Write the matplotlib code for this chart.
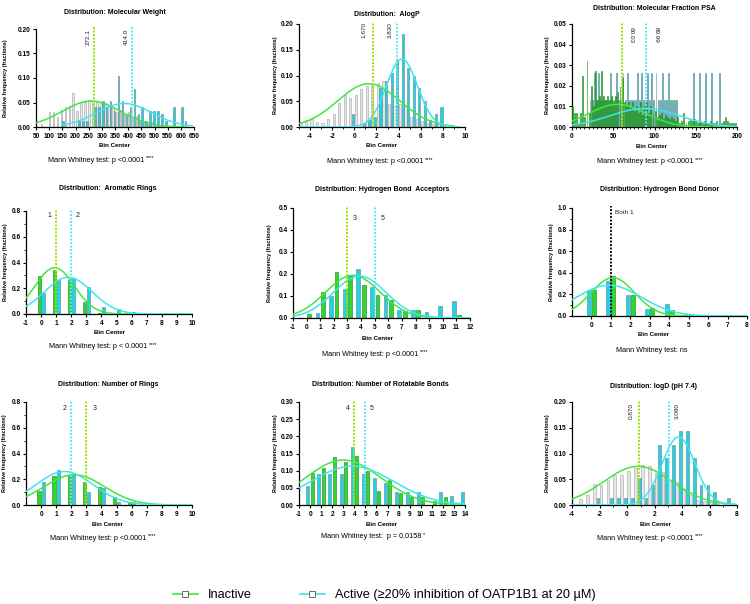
import numpy as np
import matplotlib
matplotlib.use('Agg')
import matplotlib.pyplot as plt
from matplotlib.lines import Line2D
from matplotlib.ticker import FixedLocator, MultipleLocator, FormatStrFormatter

plt.rcParams['font.family'] = ['Liberation Sans', 'DejaVu Sans']

W, H = 750, 604

# colores
GREEN = '#2fd82f'
GREEN_EDGE = '#1d7a1d'
CYAN = '#22d2e2'
CYAN_EDGE = '#5f858a'
GREY = '#e6e6e6'
GREY_EDGE = '#a0a0a0'
GREEN_FIT = '#3cea3c'
CYAN_FIT = '#3fe4f0'
GREEN_MED = '#9ae600'
CYAN_MED = '#5ae8f4'


#  DATOS (fracciones relativas)

# Molecular weight, bins de 15
mw_bins = np.arange(75, 630, 15)
mw_inactive = [0.007, 0.0, 0.03, 0.03, 0.02, 0.035, 0.04, 0.042, 0.07, 0.033,
               0.052, 0.052, 0.055, 0.054, 0.052, 0.05, 0.048, 0.045, 0.04, 0.03,
               0.035, 0.028, 0.03, 0.02, 0.022, 0.015, 0.012, 0.008, 0.01, 0.006,
               0.005, 0.004, 0.003, 0.0, 0.0, 0.0, 0.0]
mw_active = [0.0, 0.0, 0.0, 0.0, 0.0, 0.013, 0.0, 0.0, 0.0, 0.013,
             0.013, 0.013, 0.0, 0.04, 0.04, 0.053, 0.04, 0.053, 0.033, 0.104,
             0.053, 0.027, 0.04, 0.078, 0.027, 0.04, 0.013, 0.033, 0.033, 0.033,
             0.027, 0.013, 0.0, 0.04, 0.0, 0.04, 0.013]

# AlogP, bins de 0.5
alogp_bins = np.arange(-4.75, 9.5, 0.5)
alogp_inactive = [0.009, 0.013, 0.015, 0.01, 0.007, 0.015, 0.025, 0.047, 0.062, 0.057,
                  0.063, 0.074, 0.08, 0.082, 0.086, 0.09, 0.045, 0.04, 0.045, 0.04,
                  0.02, 0.015, 0.012, 0.008, 0.005, 0.003, 0.002, 0.002, 0.002]
alogp_active = [0.0, 0.0, 0.0, 0.0, 0.0, 0.0, 0.0, 0.0, 0.0, 0.025,
                0.0, 0.008, 0.013, 0.02, 0.075, 0.09, 0.105, 0.13, 0.18, 0.115,
                0.1, 0.076, 0.05, 0.013, 0.025, 0.039, 0.0, 0.0, 0.0]

# Molecular fraction PSA, bins de 2.5
psa_bins = np.arange(1.25, 200, 2.5)
psa_inactive = [0.010, 0.007, 0.007, 0.002, 0.007, 0.025, 0.005, 0.032, 0.007, 0.020,
                0.010, 0.027, 0.013, 0.015, 0.027, 0.015, 0.013, 0.015, 0.013, 0.015,
                0.012, 0.015, 0.017, 0.020, 0.024, 0.012, 0.010, 0.012, 0.009, 0.012,
                0.008, 0.010, 0.007, 0.012, 0.006, 0.010, 0.012, 0.007, 0.010, 0.006,
                0.008, 0.005, 0.006, 0.007, 0.004, 0.006, 0.005, 0.004, 0.005, 0.004,
                0.003, 0.005, 0.002, 0.003, 0.007, 0.002, 0.003, 0.004, 0.003, 0.004,
                0.003, 0.002, 0.003, 0.002, 0.003, 0.002, 0.002, 0.003, 0.002, 0.002,
                0.003, 0.002, 0.002, 0.003, 0.005, 0.003, 0.002, 0.002, 0.002, 0.002]
psa_active = [0.0, 0.0, 0.0, 0.0, 0.0, 0.0, 0.0, 0.0, 0.013, 0.013,
              0.026, 0.013, 0.026, 0.013, 0.013, 0.013, 0.013, 0.013, 0.026, 0.013,
              0.013, 0.026, 0.013, 0.013, 0.026, 0.013, 0.026, 0.013, 0.013, 0.013,
              0.013, 0.026, 0.013, 0.026, 0.013, 0.013, 0.026, 0.013, 0.026, 0.013,
              0.026, 0.013, 0.013, 0.026, 0.013, 0.013, 0.026, 0.013, 0.013, 0.013,
              0.013, 0.0, 0.0, 0.0, 0.0, 0.0, 0.0, 0.0, 0.026, 0.0,
              0.0, 0.026, 0.0, 0.0, 0.026, 0.0, 0.0, 0.026, 0.0, 0.0,
              0.0, 0.026, 0.0, 0.0, 0.0, 0.0, 0.0, 0.0, 0.0, 0.0]

# Aromatic rings
arom_bins = np.arange(0, 7)
arom_inactive = [0.297, 0.34, 0.263, 0.093, 0.005, 0.0, 0.0]
arom_active = [0.16, 0.263, 0.276, 0.21, 0.052, 0.036, 0.013]

# Hydrogen bond acceptors
hba_bins = np.arange(0, 12)
hba_inactive = [0.02, 0.116, 0.209, 0.19, 0.15, 0.105, 0.083, 0.03, 0.038, 0.003, 0.003, 0.012]
hba_active = [0.0, 0.023, 0.1, 0.131, 0.221, 0.143, 0.105, 0.038, 0.038, 0.026, 0.053, 0.078]

# Hydrogen bond donor
hbd_bins = np.arange(0, 8)
hbd_inactive = [0.238, 0.367, 0.19, 0.077, 0.06, 0.015, 0.002, 0.0]
hbd_active = [0.244, 0.32, 0.19, 0.062, 0.114, 0.02, 0.003, 0.01]

# Number of rings
rings_bins = np.arange(0, 8)
rings_inactive = [0.11, 0.226, 0.234, 0.18, 0.138, 0.06, 0.023, 0.005]
rings_active = [0.18, 0.27, 0.24, 0.10, 0.13, 0.026, 0.023, 0.0]

# Number of rotatable bonds
rot_bins = np.arange(0, 15)
rot_inactive = [0.093, 0.109, 0.139, 0.124, 0.143, 0.1, 0.041, 0.073, 0.034, 0.024,
                0.024, 0.012, 0.022, 0.0, 0.0]
rot_active = [0.054, 0.09, 0.09, 0.09, 0.168, 0.09, 0.078, 0.065, 0.039, 0.039,
              0.039, 0.0, 0.039, 0.026, 0.039]

# logD (pH 7.4), bins de 0.5
logd_bins = np.arange(-3.5, 8.0, 0.5)
logd_inactive = [0.011, 0.02, 0.04, 0.038, 0.048, 0.058, 0.058, 0.066, 0.072, 0.078,
                 0.075, 0.063, 0.065, 0.045, 0.045, 0.03, 0.02, 0.01, 0.008, 0.005,
                 0.003, 0.002, 0.001]
logd_active = [0.0, 0.0, 0.0, 0.013, 0.0, 0.013, 0.013, 0.013, 0.013, 0.052,
               0.013, 0.039, 0.117, 0.091, 0.117, 0.143, 0.143, 0.091, 0.039, 0.039,
               0.026, 0.0, 0.013]

# Ajuste gaussiano (amplitud, media, sd)
fit_inactive = [(0.053, 260, 110), (0.084, 1.3, 2.8), (0.011, 55, 34),
                (0.36, 0.9, 1.3), (0.194, 3.4, 2.0), (0.355, 1.1, 1.12),
                (0.235, 2.2, 2.0), (0.131, 3.0, 3.4), (0.075, 0.8, 2.5)]
fit_active = [(0.048, 385, 105), (0.132, 4.3, 1.4), (0.009, 88, 42),
              (0.285, 1.8, 1.58), (0.19, 3.9, 1.95), (0.285, 0.9, 1.68),
              (0.26, 1.55, 1.9), (0.113, 3.8, 3.75), (0.132, 3.75, 1.2)]

# Medianas
median_inactive = [272.1, 1.670, 60.03, 1, 3, 1, 3, 4, 0.870]
median_active = [414.0, 3.830, 89.99, 2, 5, 1, 2, 5, 3.080]

titles = ['Distribution: Molecular Weight', 'Distribution:  AlogP',
          'Distribution: Molecular Fraction PSA', 'Distribution:  Aromatic Rings',
          'Distribution: Hydrogen Bond  Acceptors', 'Distribution: Hydrogen Bond Donor',
          'Distribution: Number of Rings', 'Distribution: Number of Rotatable Bonds',
          'Distribution: logD (pH 7.4)']
p_texts = ['p <0.0001', 'p <0.0001', 'p <0.0001', 'p < 0.0001', 'p <0.0001',
           'ns', 'p <0.0001', ' p = 0.0158', 'p <0.0001']
stars = ['****', '****', '****', '****', '****', '', '****', '*', '****']


#  LAYOUT (pixeles)

# (x0, top, x1, bottom) de cada eje
rects = [(36, 29, 194, 127), (299, 24, 465, 127), (572, 24, 737, 127),
         (26, 211, 192, 314), (293, 208, 470, 318), (572, 208, 747, 316),
         (26, 402, 192, 505), (299, 402, 465, 505), (572, 402, 737, 505)]
title_xy = [(115, 13), (387, 15), (654, 8), (108, 189), (382, 190), (660, 190),
            (108, 385), (380, 385), (654, 386)]
bincenter_xy = [(115, 145), (382, 145), (652, 146), (109, 333), (377, 339), (653, 335),
                (107, 524), (382, 524), (655, 524)]
mw_xy = [(100, 160), (379, 162), (649, 162), (102, 347), (374, 354), (652, 350),
         (102, 538), (375, 537), (649, 538)]
ylabel_x = [6, 275, 548, 6, 270, 551, 5, 275, 548]


def gauss(x, amp, mu, sd):
    return amp * np.exp(-(x - mu) ** 2 / (2 * sd ** 2))


def add_axes(fig, r):
    x0, top, x1, bottom = r
    return fig.add_axes([x0 / W, 1 - bottom / H, (x1 - x0) / W, (bottom - top) / H])


def px_off(dx, dy):
    # pixeles -> puntos (dpi 100)
    return (dx * 0.72, dy * 0.72)


def style_axes(ax, xlim, ylim, xticks, yticks, yfmt, xminor=None, yminor=None):
    ax.set_xlim(*xlim)
    ax.set_ylim(*ylim)
    for s in ('top', 'right'):
        ax.spines[s].set_visible(False)
    for s in ('left', 'bottom'):
        ax.spines[s].set_linewidth(0.9)
    ax.xaxis.set_major_locator(FixedLocator(xticks))
    ax.yaxis.set_major_locator(FixedLocator(yticks))
    ax.yaxis.set_major_formatter(FormatStrFormatter(yfmt))
    ax.xaxis.set_major_formatter(FormatStrFormatter('%g'))
    if xminor:
        ax.xaxis.set_minor_locator(MultipleLocator(xminor))
    if yminor:
        ax.yaxis.set_minor_locator(MultipleLocator(yminor))
    ax.tick_params(which='major', length=2.5, width=0.8, labelsize=4.7, pad=1.5)
    ax.tick_params(which='minor', length=1.5, width=0.6)
    for lbl in ax.get_xticklabels() + ax.get_yticklabels():
        lbl.set_fontweight('bold')


def draw_bars(ax, bins, inactive, active, width, offset, grey=False,
              inactive_first=True, inactive_on_top=False):
    sign = -1 if inactive_first else 1
    if grey:
        fc, ec = GREY, GREY_EDGE
    else:
        fc, ec = GREEN, GREEN_EDGE
    z_in = 3 if inactive_on_top else 2
    ax.bar(np.asarray(bins) + sign * offset, inactive, width=width, color=fc,
           edgecolor=ec, linewidth=0.4, zorder=z_in)
    ax.bar(np.asarray(bins) - sign * offset, active, width=width, color=CYAN,
           edgecolor=CYAN_EDGE, linewidth=0.4, zorder=2.5)


def draw_fits(ax, i, xr_inactive, xr_active):
    xs = np.linspace(*xr_inactive, 300)
    ax.plot(xs, gauss(xs, *fit_inactive[i]), color=GREEN_FIT, lw=1.1, zorder=4)
    xs = np.linspace(*xr_active, 300)
    ax.plot(xs, gauss(xs, *fit_active[i]), color=CYAN_FIT, lw=1.1, zorder=4)


def draw_median(ax, x, color, label, dx, dy, rot=0, ha='left', va='top', fs=4.6):
    ax.axvline(x, 0, 1.02, color=color, lw=1.4, ls=(0, (1, 0.8)), zorder=5,
               clip_on=False)
    ax.annotate(label, xy=(x, ax.get_ylim()[1]), xytext=px_off(dx, dy),
                textcoords='offset points', rotation=rot, ha=ha, va=va,
                fontsize=fs, color='#222222')


fig = plt.figure(figsize=(W / 100, H / 100), dpi=100)
axes = [add_axes(fig, r) for r in rects]

# 1) Molecular weight
ax = axes[0]
draw_bars(ax, mw_bins, mw_inactive, mw_active, 6, 3.5, grey=True)
draw_fits(ax, 0, (50, 610), (150, 645))
style_axes(ax, (50, 650), (0, 0.20), np.arange(50, 651, 50), np.arange(0, 0.201, 0.05), '%.2f')
draw_median(ax, median_inactive[0], GREEN_MED, '272.1', -4, 0, rot=90, ha='right')
draw_median(ax, median_active[0], CYAN_MED, '414.0', -3, 0, rot=90, ha='right')

# 2) AlogP
ax = axes[1]
draw_bars(ax, alogp_bins, alogp_inactive, alogp_active, 0.2, 0.12, grey=True)
draw_fits(ax, 1, (-5, 9), (-5, 9.5))
style_axes(ax, (-5, 10), (0, 0.20), np.arange(-4, 11, 2), np.arange(0, 0.201, 0.05), '%.2f',
           xminor=1)
draw_median(ax, median_inactive[1], GREEN_MED, '1.670', -6, 2, rot=90, ha='right')
draw_median(ax, median_active[1], CYAN_MED, '3.830', -4, 2, rot=90, ha='right')

# 3) PSA
ax = axes[2]
draw_bars(ax, psa_bins, psa_inactive, psa_active, 1.15, 0.55, inactive_on_top=True)
draw_fits(ax, 2, (0, 200), (0, 200))
style_axes(ax, (0, 200), (0, 0.05), np.arange(0, 201, 50), np.arange(0, 0.051, 0.01), '%.2f',
           xminor=5)
draw_median(ax, median_inactive[2], GREEN_MED, '60.03', 7, -3, rot=270, ha='left')
draw_median(ax, median_active[2], CYAN_MED, '89.99', 8, -3, rot=270, ha='left')

# 4) Aromatic rings
ax = axes[3]
draw_bars(ax, arom_bins, arom_inactive, arom_active, 0.22, 0.12)
draw_fits(ax, 3, (-1, 10), (-1, 10))
style_axes(ax, (-1, 10), (0, 0.8), np.arange(-1, 11), np.arange(0, 0.81, 0.2), '%.1f',
           yminor=0.1)
draw_median(ax, median_inactive[3], GREEN_MED, '1', -5, -5, ha='right', va='center', fs=5)
draw_median(ax, median_active[3], CYAN_MED, '2', 4, -5, ha='left', va='center', fs=5)

# 5) Hydrogen bond acceptors
ax = axes[4]
draw_bars(ax, hba_bins, hba_inactive, hba_active, 0.28, 0.2, inactive_first=False)
draw_fits(ax, 4, (-1, 12), (-1, 12))
style_axes(ax, (-1, 12), (0, 0.5), np.arange(-1, 13), np.arange(0, 0.51, 0.1), '%.1f')
draw_median(ax, median_inactive[4], GREEN_MED, '3', 5, -10, ha='left', va='center', fs=5)
draw_median(ax, median_active[4], CYAN_MED, '5', 6, -10, ha='left', va='center', fs=5)

# 6) Hydrogen bond donor
ax = axes[5]
draw_bars(ax, hbd_bins, hbd_inactive, hbd_active, 0.22, 0.12, inactive_first=False)
draw_fits(ax, 5, (-1, 8), (-1, 8))
style_axes(ax, (-1, 8), (0, 1.0), np.arange(0, 9), np.arange(0, 1.01, 0.2), '%.1f',
           yminor=0.1)
draw_median(ax, median_inactive[5], '#111111', 'Both 1', 4, -5, ha='left', va='center', fs=4.6)

# 7) Number of rings
ax = axes[6]
draw_bars(ax, rings_bins, rings_inactive, rings_active, 0.22, 0.14)
draw_fits(ax, 6, (-1, 10), (-1, 10))
style_axes(ax, (-1, 10), (0, 0.8), np.arange(0, 11), np.arange(0, 0.81, 0.2), '%.1f',
           yminor=0.1)
draw_median(ax, median_active[6], CYAN_MED, '2', -5, -6, ha='right', va='center', fs=5)
draw_median(ax, median_inactive[6], GREEN_MED, '3', 6, -6, ha='left', va='center', fs=5)

# 8) Rotatable bonds
ax = axes[7]
draw_bars(ax, rot_bins, rot_inactive, rot_active, 0.27, 0.2, inactive_first=False)
draw_fits(ax, 7, (-1, 14), (-1, 14))
style_axes(ax, (-1, 14), (0, 0.30), np.arange(-1, 15), np.arange(0, 0.301, 0.05), '%.2f')
draw_median(ax, median_inactive[7], GREEN_MED, '4', -5, -6, ha='right', va='center', fs=5)
draw_median(ax, median_active[7], CYAN_MED, '5', 4, -6, ha='left', va='center', fs=5)

# 9) logD
ax = axes[8]
draw_bars(ax, logd_bins, logd_inactive, logd_active, 0.2, 0.11, grey=True, inactive_first=False)
draw_fits(ax, 8, (-4, 8), (-4, 8))
style_axes(ax, (-4, 8), (0, 0.20), np.arange(-4, 9, 2), np.arange(0, 0.201, 0.05), '%.2f',
           xminor=1)
draw_median(ax, median_inactive[8], GREEN_MED, '0.870', -5, -1, rot=90, ha='right')
draw_median(ax, median_active[8], CYAN_MED, '3.080', 5, -1, rot=90, ha='left')

# textos de cada panel
fig.canvas.draw()
renderer = fig.canvas.get_renderer()
for i, ax in enumerate(axes):
    x0, top, x1, bottom = rects[i]
    tx, ty = title_xy[i]
    fig.text(tx / W, 1 - ty / H, titles[i], ha='center', va='center',
             fontsize=5.0, fontweight='bold')
    bx, by = bincenter_xy[i]
    fig.text(bx / W, 1 - by / H, 'Bin Center', ha='center', va='center',
             fontsize=4.4, fontweight='bold')
    mx, my = mw_xy[i]
    shift = 4 if stars[i] else 0
    t = fig.text((mx - shift) / W, 1 - my / H, 'Mann Whitney test: ' + p_texts[i],
                 ha='center', va='center', fontsize=5.2)
    if stars[i]:
        bb = t.get_window_extent(renderer)
        fig.text((bb.x1 + 1.5) / W, (bb.y1 + 1) / H, stars[i], ha='left', va='top',
                 fontsize=4.0)
    fig.text(ylabel_x[i] / W, 1 - (top + bottom) / 2 / H, 'Relative frequency (fractions)',
             rotation=90, ha='center', va='center', fontsize=4.0, fontweight='bold')

# leyenda
handles = [Line2D([0], [0], color=GREEN_FIT, lw=1.2, marker='s', ms=4,
                  mfc='white', mec='#555555', mew=0.6),
           Line2D([0], [0], color=CYAN_FIT, lw=1.2, marker='s', ms=4,
                  mfc='white', mec='#555555', mew=0.6)]
labels = ['Inactive', 'Active (\u226520% inhibition of OATP1B1 at 20 \u00b5M)']
fig.legend(handles, labels, loc='center left', bbox_to_anchor=(161 / W, 1 - 595 / H),
           ncol=2, frameon=False, fontsize=9.2, handlelength=2.0, handletextpad=0.8,
           columnspacing=3.7)

fig.savefig('out.png', dpi=100)
